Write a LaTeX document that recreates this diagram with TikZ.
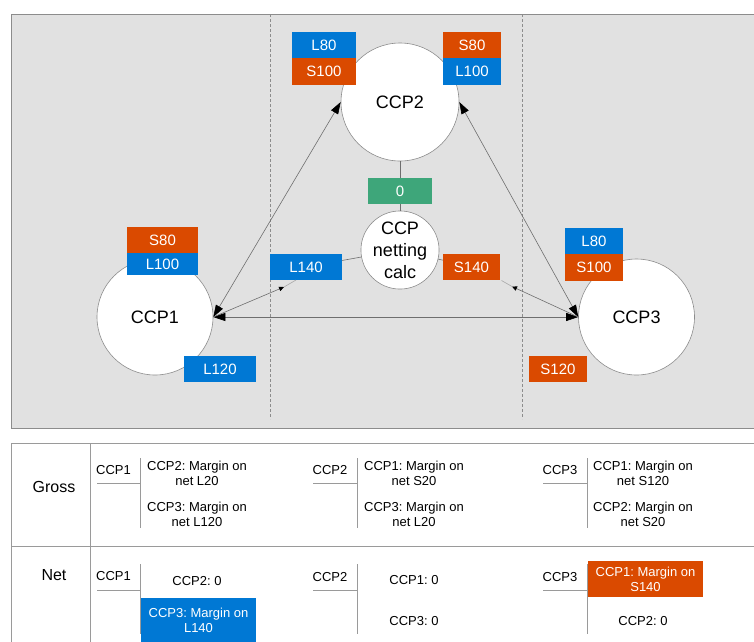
\documentclass[tikz,border=0pt]{standalone}
\usepackage{fontspec}
\setmainfont{Liberation Sans}
\usetikzlibrary{arrows.meta,calc}
\definecolor{bgray}{HTML}{E1E1E1}
\definecolor{cblue}{HTML}{0078D4}
\definecolor{corange}{HTML}{DA4A00}
\definecolor{cgreen}{HTML}{3EA67A}
\definecolor{lgray}{HTML}{6E6E6E}
\definecolor{pgray}{HTML}{8C8C8C}
\definecolor{tgray}{HTML}{9A9A9A}
\frenchspacing
\begin{document}
\begin{tikzpicture}[x=1pt,y=-1pt,
  ccp/.style={circle, draw=pgray, line width=0.6pt, fill=white, inner sep=0pt, font=\fontsize{18}{22}\selectfont},
  lbox/.style={inner sep=0pt, text=white, font=\fontsize{15}{18}\selectfont, minimum height=26pt},
  bluebox/.style={lbox, fill=cblue},
  orangebox/.style={lbox, fill=corange},
  greenbox/.style={lbox, fill=cgreen},
  conn/.style={draw=lgray, line width=0.6pt},
  faint/.style={draw=lgray!60, line width=0.6pt},
  bigtip/.style={conn, {Triangle[length=12pt,width=8pt,color=black]}-{Triangle[length=12pt,width=8pt,color=black]}},
  smalltip/.style={conn, -{Triangle[length=5pt,width=4.5pt,color=black]}},
  ttext/.style={font=\fontsize{13}{15}\selectfont, align=center, inner sep=0pt},
  tlabel/.style={font=\fontsize{13}{15}\selectfont, inner sep=0pt},
  rowhead/.style={font=\fontsize{16}{19}\selectfont, inner sep=0pt},
  tline/.style={draw=tgray, line width=0.8pt},
]
\useasboundingbox (0,0) rectangle (754,641);
% top panel
\path[fill=bgray, draw=pgray, line width=1pt] (11,14) rectangle (770,428);
\draw[pgray, line width=0.6pt, dash pattern=on 3pt off 2pt] (270,14) -- (270,419);
\draw[pgray, line width=0.6pt, dash pattern=on 3pt off 2pt] (522,14) -- (522,419);

% circles
\node[ccp, minimum size=118pt] (c2) at (400,102) {CCP2};
\node[ccp, minimum size=116pt] (c1) at (155,317) {CCP1};
\node[ccp, minimum size=116pt] (c3) at (636.5,317) {CCP3};
\node[ccp, minimum size=77pt, align=center] (cn) at (400,250) {CCP\\netting\\calc};

% boxes
\node[bluebox, minimum width=64pt] (c2l80) at (324,45) {L80};
\node[orangebox, minimum width=64pt, minimum height=27pt] (c2s100) at (324,71.5) {S100};
\node[orangebox, minimum width=58pt] (c2s80) at (472,45) {S80};
\node[bluebox, minimum width=58pt, minimum height=27pt] (c2l100) at (472,71.5) {L100};
\node[orangebox, minimum width=71pt] (c1s80) at (162.5,240) {S80};
\node[bluebox, minimum width=71pt, minimum height=22pt] (c1l100) at (162.5,264) {L100};
\node[bluebox, minimum width=58pt] (c3l80) at (594,241) {L80};
\node[orangebox, minimum width=58pt, minimum height=27pt] (c3s100) at (594,267.5) {S100};
\node[bluebox, minimum width=72pt] (l140) at (306,267) {L140};
\node[orangebox, minimum width=57pt] (s140) at (471.5,267) {S140};
\node[bluebox, minimum width=72pt] (l120) at (220,369) {L120};
\node[orangebox, minimum width=58pt] (s120) at (558,369) {S120};
\node[greenbox, minimum width=64pt] (g0) at (400,191) {0};

% connectors
\draw[conn] (c2.south) -- (g0.north);
\draw[conn] (g0.south) -- (cn.north);
\draw[conn] (cn) -- (l140);
\draw[conn] (cn) -- (s140);
\draw[bigtip] (c1.east) -- (c2.west);
\draw[bigtip] (c2.east) -- (c3.west);
\draw[bigtip] (c1.east) -- (c3.west);
\coordinate (a140) at (284,287);
\coordinate (b140) at (296,280);
\coordinate (a140s) at (512,286.5);
\coordinate (b140s) at (501.5,280.5);
\draw[smalltip] (c1.east) -- (a140);
\draw[faint] (a140) -- (b140);
\draw[smalltip] (c3.west) -- (a140s);
\draw[faint] (a140s) -- (b140s);

% bottom table
\draw[tline] (770,443) -- (11,443) -- (11,660);
\draw[tline] (11,546) -- (770,546);
\draw[tline] (90,443) -- (90,660);
\node[rowhead] (gross) at (54,487) {Gross};
\node[rowhead] (net) at (54,575) {Net};

% gross row
\node[tlabel] (g1) at (113.5,470) {CCP1};
\draw[tline] (97,483) -- (140,483);
\draw[tline] (140,458) -- (140,528);
\node[ttext] (g1a) at (197,473.5) {CCP2: Margin on\\net L20};
\node[ttext] (g1b) at (197,514.5) {CCP3: Margin on\\net L120};

\node[tlabel] (g2) at (330,470) {CCP2};
\draw[tline] (313,483) -- (357,483);
\draw[tline] (357,458) -- (357,528);
\node[ttext] (g2a) at (414,473.5) {CCP1: Margin on\\net S20};
\node[ttext] (g2b) at (414,514.5) {CCP3: Margin on\\net L20};

\node[tlabel] (g3) at (560,470) {CCP3};
\draw[tline] (543,483) -- (587,483);
\draw[tline] (587,458) -- (587,528);
\node[ttext] (g3a) at (643,473.5) {CCP1: Margin on\\net S120};
\node[ttext] (g3b) at (643,514.5) {CCP2: Margin on\\net S20};

% net row
\node[tlabel] (n1) at (113.5,576) {CCP1};
\draw[tline] (97,590) -- (140,590);
\draw[tline] (140,564) -- (140,634);
\node[ttext] (n1a) at (197,581) {CCP2: 0};
\node[ttext, fill=cblue, text=white, minimum width=115pt, minimum height=44pt] (n1b) at (198.5,620) {CCP3: Margin on\\L140};

\node[tlabel] (n2) at (330,577) {CCP2};
\draw[tline] (313,590) -- (357,590);
\draw[tline] (357,564) -- (357,634);
\node[ttext] (n2a) at (414,580) {CCP1: 0};
\node[ttext] (n2b) at (414,621) {CCP3: 0};

\node[tlabel] (n3) at (560,577) {CCP3};
\draw[tline] (543,590) -- (587,590);
\draw[tline] (587,564) -- (587,634);
\node[ttext, fill=corange, text=white, minimum width=115pt, minimum height=36pt] (n3a) at (645.5,579) {CCP1: Margin on\\S140};
\node[ttext] (n3b) at (643,621) {CCP2: 0};
\end{tikzpicture}
\end{document}
